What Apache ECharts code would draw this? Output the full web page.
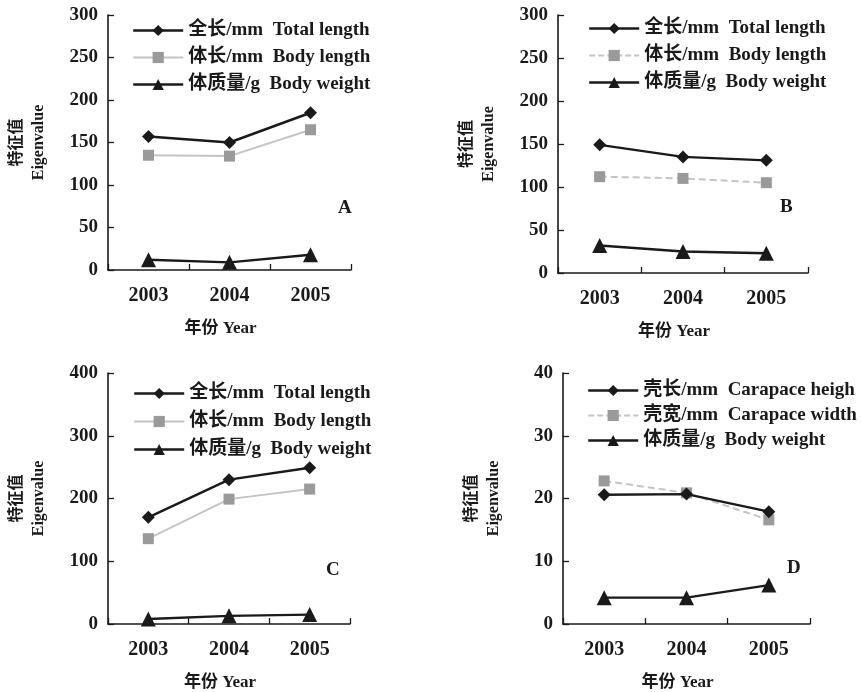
<!DOCTYPE html>
<html>
<head>
<meta charset="utf-8">
<script src="https://cdn.jsdelivr.net/npm/echarts@6/dist/echarts.min.js"></script>
<style>html,body{margin:0;padding:0;background:#fff}#c{width:861px;height:692px}</style>
</head>
<body>
<div id="c"></div>
<script>
const years = ['2003', '2004', '2005'];
const yTicksAB = [0, 50, 100, 150, 200, 250, 300];
const yTicksC = [0, 100, 200, 300, 400];
const yTicksD = [0, 10, 20, 30, 40];

const A_total = [157, 150, 185];
const A_body = [135, 134, 165];
const A_weight = [12, 9, 18];

const B_total = [149, 135, 131];
const B_body = [112, 110, 105];
const B_weight = [32, 25, 23];

const C_total = [170, 230, 249];
const C_body = [136, 199, 215];
const C_weight = [8, 13, 15];

const D_height = [20.6, 20.7, 17.9];
const D_width = [22.8, 20.9, 16.6];
const D_weight = [4.2, 4.2, 6.2];

const nTotal = '全长/mm  Total length';
const nBody = '体长/mm  Body length';
const nWeight = '体质量/g  Body weight';
const nCH = '壳长/mm  Carapace heigh';
const nCW = '壳宽/mm  Carapace width';
const panelLetters = ['A', 'B', 'C', 'D'];
const yName = '特征值\nEigenvalue';
const xName = '年份 Year';

const FONT = '"Liberation Serif","Noto Sans CJK SC",serif';
const INK = '#1a1a1a';
const GREY = '#9a9a9a';
const GREYLINE = '#c4c4c4';

const grids = [
  {left: 108, top: 15, right: 510, bottom: 422},
  {left: 558, top: 15, right: 53, bottom: 419},
  {left: 108, top: 373, right: 511, bottom: 65},
  {left: 563, top: 373, right: 51, bottom: 66}
];
const yRanges = [
  {min: yTicksAB[0], max: yTicksAB[yTicksAB.length - 1], interval: yTicksAB[1] - yTicksAB[0]},
  {min: yTicksAB[0], max: yTicksAB[yTicksAB.length - 1], interval: yTicksAB[1] - yTicksAB[0]},
  {min: yTicksC[0], max: yTicksC[yTicksC.length - 1], interval: yTicksC[1] - yTicksC[0]},
  {min: yTicksD[0], max: yTicksD[yTicksD.length - 1], interval: yTicksD[1] - yTicksD[0]}
];

const axisLine = {show: true, lineStyle: {color: INK, width: 1.6}};
const xAxes = grids.map((g, i) => ({
  type: 'category', gridIndex: i, data: years, boundaryGap: true,
  axisLine, axisTick: {show: true, inside: true, length: 6, lineStyle: {color: INK, width: 1.3}},
  axisLabel: {color: INK, fontFamily: FONT, fontSize: 20, fontWeight: 'bold', margin: 16},
  name: xName, nameLocation: 'middle', nameGap: 50,
  nameTextStyle: {color: INK, fontFamily: FONT, fontSize: 17, fontWeight: 'bold', padding: [0, 18, 0, 0]},
  splitLine: {show: false}
}));
const yAxes = grids.map((g, i) => ({
  type: 'value', gridIndex: i, min: yRanges[i].min, max: yRanges[i].max, interval: yRanges[i].interval,
  axisLine, axisTick: {show: true, inside: true, length: 6, lineStyle: {color: INK, width: 1.3}},
  axisLabel: {color: INK, fontFamily: FONT, fontSize: 19, fontWeight: 'bold', margin: 10},
  name: yName, nameLocation: 'middle', nameGap: 58, nameRotate: 90,
  nameTextStyle: {color: INK, fontFamily: FONT, fontSize: 16, fontWeight: 'bold', lineHeight: 22},
  splitLine: {show: false}
}));

function black(name, data, i, symbol, size) {
  return {type: 'line', name, data, xAxisIndex: i, yAxisIndex: i, symbol, symbolSize: size,
    lineStyle: {color: INK, width: 2.4}, itemStyle: {color: INK}, z: 3, animation: false};
}
function grey(name, data, i, dashed) {
  return {type: 'line', name, data, xAxisIndex: i, yAxisIndex: i, symbol: 'rect', symbolSize: 11,
    lineStyle: {color: GREYLINE, width: 2, type: dashed ? [7, 4] : 'solid'}, itemStyle: {color: GREY}, z: 2, animation: false};
}
const series = [
  black(nTotal, A_total, 0, 'diamond', 13), grey(nBody, A_body, 0, false), black(nWeight, A_weight, 0, 'triangle', 15),
  black(nTotal, B_total, 1, 'diamond', 13), grey(nBody, B_body, 1, true), black(nWeight, B_weight, 1, 'triangle', 15),
  black(nTotal, C_total, 2, 'diamond', 13), grey(nBody, C_body, 2, false), black(nWeight, C_weight, 2, 'triangle', 15),
  black(nCH, D_height, 3, 'diamond', 13), grey(nCW, D_width, 3, true), black(nWeight, D_weight, 3, 'triangle', 15)
];

const legendPos = [{left: 127, top: 16}, {left: 583, top: 14}, {left: 128, top: 379}, {left: 582, top: 376}];
const legendGap = [8, 8, 9, 6];
const legendNames = [[nTotal, nBody, nWeight], [nTotal, nBody, nWeight], [nTotal, nBody, nWeight], [nCH, nCW, nWeight]];
const legendDashed = [false, true, false, true];
const legends = legendPos.map((p, i) => ({
  left: p.left, top: p.top, orient: 'vertical', itemWidth: 50, itemHeight: 14, itemGap: legendGap[i],
  selectedMode: false,
  textStyle: {color: INK, fontFamily: FONT, fontSize: 19, fontWeight: 'bold', lineHeight: 19},
  data: legendNames[i].map((n, k) => {
    const o = {name: n};
    if (k === 1) { o.itemStyle = {color: GREY}; o.lineStyle = {color: GREYLINE, width: 2, type: legendDashed[i] ? [6, 3] : 'solid'}; }
    else { o.itemStyle = {color: INK}; o.lineStyle = {color: INK, width: 2.4}; }
    return o;
  })
}));

const letterPos = [{left: 338, top: 199}, {left: 780, top: 198}, {left: 326, top: 561}, {left: 787, top: 559}];
const titles = letterPos.map((p, i) => ({
  text: panelLetters[i], left: p.left, top: p.top, padding: 0,
  textStyle: {color: INK, fontFamily: FONT, fontSize: 19, fontWeight: 'bold'}
}));

const chart = echarts.init(document.getElementById('c'), null, {renderer: 'canvas'});
chart.setOption({
  backgroundColor: '#fff',
  animation: false,
  title: titles,
  legend: legends,
  grid: grids,
  xAxis: xAxes,
  yAxis: yAxes,
  series
});
</script>
</body>
</html>
